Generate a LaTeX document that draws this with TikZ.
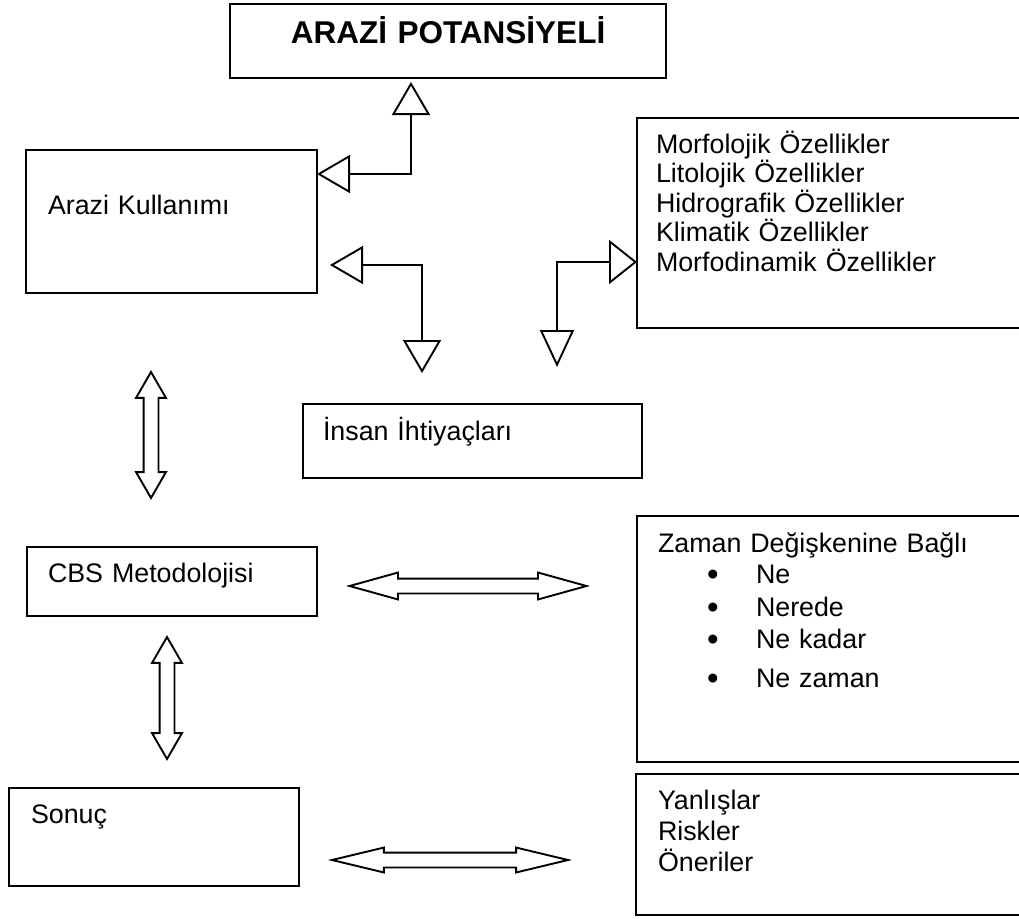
\documentclass[tikz,border=0pt]{standalone}
\usepackage{fontspec}
\setmainfont{Liberation Sans}
\usepackage{tikz}
\usetikzlibrary{positioning, shapes, arrows.meta, calc}

\tikzstyle{box}=[%
      rectangle, draw=black, line width=1.9pt, anchor=north west,
      inner ysep=0pt, outer sep=0pt, align=left,
      font=\fontsize{26.8}{29.6}\selectfont
]
% boxes running off the right edge of the page
\tikzstyle{openbox}=[box, draw=none]
\tikzstyle{dbl}=[%
      double arrow, draw=black, line width=1.9pt, fill=white,
      inner xsep=0pt, inner ysep=6.5pt
]
\newcommand{\blt}{\makebox[49pt][l]{\raisebox{-2.4pt}{\fontsize{33}{33}\selectfont•}}}

\begin{document}
\begin{tikzpicture}[x=1pt, y=-1pt,
    line width=1.9pt,
    >={Triangle[open, length=33pt, width=38pt]}
  ]
    \useasboundingbox (0,0) rectangle (1019,918);

    \node[box, align=center, inner xsep=0pt, text width=436pt, text height=39pt, text depth=35pt,
          font=\fontsize{31.5}{36}\selectfont\bfseries] (pot) at (230,4) {ARAZİ POTANSİYELİ};
    \node[box, inner xsep=22pt, text width=247pt, text height=64pt, text depth=79pt] (kull) at (26,150) {Arazi Kullanımı};
    \node[openbox, inner xsep=19pt, text width=344pt, text height=35pt, text depth=175pt] (morf) at (637,118)
         {Morfolojik Özellikler\\Litolojik Özellikler\\Hidrografik Özellikler\\Klimatik Özellikler\\Morfodinamik Özellikler};
    \node[box, inner xsep=20pt, text width=299pt, text height=36pt, text depth=38pt] (ins) at (303,404) {İnsan İhtiyaçları};
    \node[box, inner xsep=21pt, text width=248pt, text height=35pt, text depth=34pt] (cbs) at (27,547) {CBS Metodolojisi};
    \node[openbox, inner xsep=21pt, text width=340pt, text height=36pt, text depth=210pt] (zam) at (637,516)
         {Zaman Değişkenine Bağlı\\[1.4pt]
          \hspace*{49pt}\blt Ne\\[3.4pt]
          \hspace*{49pt}\blt Nerede\\[2.4pt]
          \hspace*{49pt}\blt Ne kadar\\[9.4pt]
          \hspace*{49pt}\blt Ne zaman};
    \node[openbox, inner xsep=22pt, text width=339pt, text height=35pt, text depth=106pt] (yan) at (636,774)
         {Yanlışlar\\[1.4pt]Riskler\\[1.4pt]Öneriler};
    \node[box, inner xsep=22pt, text width=246pt, text height=35pt, text depth=63pt] (son) at (9,788) {Sonuç};

    \draw (morf.north east) -- (morf.north west) -- (morf.south west) -- (morf.south east);
    \draw (zam.north east) -- (zam.north west) -- (zam.south west) -- (zam.south east);
    \draw (yan.north east) -- (yan.north west) -- (yan.south west) -- (yan.south east);

    % elbow connectors
    \draw[<->, shorten >=4pt] ($(kull.north east)+(0,24)$) -| ($(pot.south west)+(181,0)$);
    \draw[<->, shorten <=13pt, shorten >=31pt] ($(kull.south east)+(0,-28)$) -| ($(ins.north west)+(119,0)$);
    \draw[{Triangle[open, length=28pt, width=44pt]}-{Triangle[open, length=37pt, width=34pt]}, shorten >=37pt]
         ($(morf.north west)+(0,144)$) -| ($(ins.north west)+(254,0)$);

    % block arrows
    \node[dbl, rotate=90, minimum height=126pt, double arrow head extend=7.5pt, double arrow tip angle=60] (kc) at ($(kull.south west)+(125,142)$) {};
    \node[dbl, rotate=90, minimum height=122pt, double arrow head extend=7.5pt, double arrow tip angle=60] (cs) at ($(cbs.south west)+(140,82)$) {};
    \node[dbl, minimum height=237pt, double arrow head extend=6pt, double arrow tip angle=31] (cz) at ($(cbs.south east)+(151,-30)$) {};
    \node[dbl, minimum height=236pt, double arrow head extend=5pt, double arrow tip angle=27] (sy) at ($(son.south east)+(151,-26)$) {};

  \end{tikzpicture}
\end{document}
